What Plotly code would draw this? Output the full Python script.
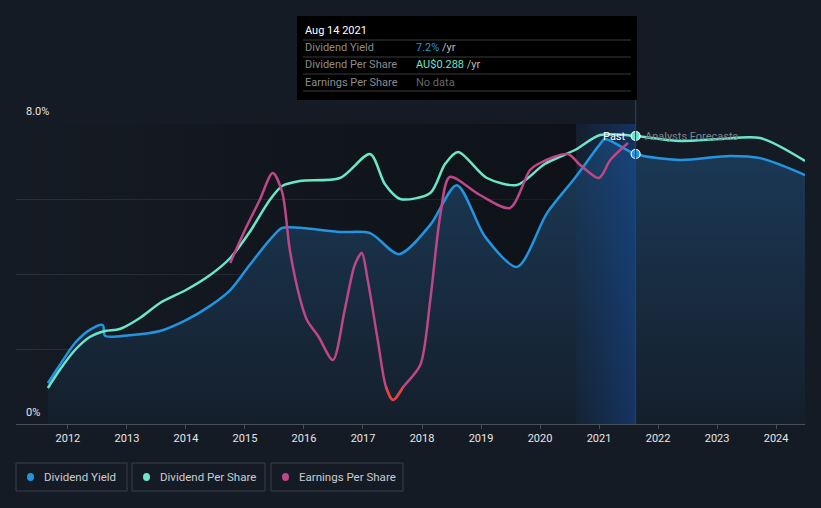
import plotly.graph_objects as go

# ---------------- data ----------------
dy_years = [2011.66, 2011.86, 2012.12, 2012.37, 2012.59, 2012.63, 2013.05, 2013.56, 2014.0,
            2014.41, 2014.75, 2015.08, 2015.42, 2015.63, 2015.93, 2016.61, 2017.12, 2017.61,
            2018.14, 2018.59, 2019.07, 2019.61, 2020.12, 2020.59, 2021.02, 2021.10, 2021.62,
            2022.37, 2023.22, 2023.73, 2024.49]
dy_values = [1.09, 1.57, 2.16, 2.51, 2.64, 2.35, 2.37, 2.48, 2.77,
             3.15, 3.57, 4.24, 4.91, 5.23, 5.23, 5.12, 5.09, 4.53,
             5.31, 6.37, 4.99, 4.19, 5.63, 6.56, 7.47, 7.60, 7.20,
             7.04, 7.15, 7.09, 6.64]

dps_years = [2011.66, 2011.86, 2012.12, 2012.37, 2012.63, 2012.88, 2013.22, 2013.56, 2014.0,
             2014.41, 2014.75, 2015.08, 2015.42, 2015.63, 2015.93, 2016.61, 2017.12, 2017.37,
             2017.63, 2018.14, 2018.39, 2018.61, 2019.10, 2019.61, 2020.08, 2020.59, 2021.02,
             2021.62, 2022.37, 2023.05, 2023.73, 2024.49]
dps_values = [0.036, 0.054, 0.074, 0.087, 0.093, 0.095, 0.106, 0.121, 0.134,
              0.149, 0.166, 0.192, 0.224, 0.238, 0.243, 0.246, 0.270, 0.240,
              0.225, 0.231, 0.260, 0.272, 0.246, 0.239, 0.260, 0.274, 0.289,
              0.288, 0.283, 0.285, 0.286, 0.263]

eps_years = [2014.75, 2015.0, 2015.25, 2015.47, 2015.63, 2015.76, 2015.93, 2016.05, 2016.24,
             2016.49, 2016.69, 2016.86, 2016.98, 2017.08, 2017.25, 2017.39, 2017.51, 2017.68,
             2017.97, 2018.14, 2018.31, 2018.47, 2018.98, 2019.49, 2019.83, 2020.0, 2020.47,
             2020.68, 2021.0, 2021.19, 2021.49]
eps_values = [12.4, 15.7, 18.7, 21.4, 19.5, 13.7, 8.9, 6.7, 5.1,
              2.7, 7.7, 12.2, 13.4, 10.7, 4.7, 0.0, -1.3, 0.0,
              2.2, 8.7, 17.2, 21.0, 19.2, 17.9, 21.7, 22.4, 23.3,
              22.2, 20.9, 22.7, 24.4]
eps_neg_years = [2017.39, 2017.51, 2017.68]
eps_neg_values = [0.0, -1.3, 0.0]

tick_years = list(range(2012, 2025))
tick_labels = [str(y) for y in tick_years]

x_range = [2011.12, 2024.49]
past_band = [2020.61, 2021.62]
now_year = 2021.62

BG = "#151b24"
BLUE = "#2394df"
TEAL = "#6ce5cb"
PINK = "#bd4787"
RED = "#e5423b"
FONT = "Roboto"

fig = go.Figure()

# darker "past" background (horizontal gradient)
fig.add_trace(go.Scatter(
    x=[x_range[0], past_band[0], past_band[0], x_range[0]], y=[0, 0, 8, 8],
    fill="toself", mode="none", hoverinfo="skip", showlegend=False,
    fillgradient=dict(type="horizontal",
                      colorscale=[[0, "rgba(8,10,14,0.0)"], [1, "rgba(8,10,14,0.55)"]])))

# dividend yield area fill
fig.add_trace(go.Scatter(
    x=dy_years, y=dy_values, fill="tozeroy", mode="none", hoverinfo="skip",
    showlegend=False, line=dict(shape="spline", smoothing=0.8),
    fillgradient=dict(type="vertical", start=0, stop=8,
                      colorscale=[[0, "#151f2b"], [1, "#1b3b5a"]])))

# last-year highlight band
fig.add_trace(go.Scatter(
    x=[past_band[0], past_band[1], past_band[1], past_band[0]], y=[0, 0, 8, 8],
    fill="toself", mode="none", hoverinfo="skip", showlegend=False,
    fillgradient=dict(type="horizontal",
                      colorscale=[[0, "rgba(20,70,140,0.10)"], [1, "rgba(20,80,170,0.45)"]])))

# lines
fig.add_trace(go.Scatter(
    x=eps_years, y=eps_values, yaxis="y3", mode="lines", hoverinfo="skip",
    showlegend=False, line=dict(color=PINK, width=2.5, shape="spline", smoothing=0.8)))
fig.add_trace(go.Scatter(
    x=eps_neg_years, y=eps_neg_values, yaxis="y3", mode="lines", hoverinfo="skip",
    showlegend=False, line=dict(color=RED, width=2.5, shape="spline", smoothing=1)))
fig.add_trace(go.Scatter(
    x=dps_years, y=dps_values, yaxis="y2", mode="lines", hoverinfo="skip",
    showlegend=False, line=dict(color=TEAL, width=2.5, shape="spline", smoothing=0.8)))
fig.add_trace(go.Scatter(
    x=dy_years, y=dy_values, mode="lines", hoverinfo="skip",
    showlegend=False, line=dict(color=BLUE, width=2.5, shape="spline", smoothing=0.8)))

# current-date markers
fig.add_trace(go.Scatter(
    x=[now_year], y=[0.288], yaxis="y2", mode="markers", hoverinfo="skip", showlegend=False,
    marker=dict(size=9, color=TEAL, line=dict(color="white", width=1.2))))
fig.add_trace(go.Scatter(
    x=[now_year], y=[7.2], mode="markers", hoverinfo="skip", showlegend=False,
    marker=dict(size=9, color=BLUE, line=dict(color="white", width=1.2))))

W, H = 821, 508
L, R, T, B = 16, 16, 124, 84
pw, ph = W - L - R, H - T - B


def px(x):
    return (x - L) / pw


def py(y):
    return (H - B - y) / ph


shapes = []
annotations = []

# vertical "now" line
shapes.append(dict(type="line", xref="x", yref="paper", x0=now_year, x1=now_year,
                   y0=0, y1=py(100), line=dict(color="#26456b", width=1), layer="above"))

# tooltip box
shapes.append(dict(type="rect", xref="paper", yref="paper", x0=px(297), x1=px(637),
                   y0=py(100), y1=py(16), fillcolor="#000000", line=dict(width=0), layer="above"))
for yy in [40, 57, 74, 91]:
    shapes.append(dict(type="line", xref="paper", yref="paper", x0=px(303), x1=px(631),
                       y0=py(yy), y1=py(yy), line=dict(color="#3a3a3a", width=1), layer="above"))

annotations.append(dict(xref="paper", yref="paper", x=px(303), y=py(31), text="Aug 14 2021",
                        showarrow=False, xanchor="left", yanchor="middle",
                        font=dict(family=FONT, size=11, color="#ffffff")))
rows = [
    ("Dividend Yield", "<span style='color:%s'>7.2%%</span> /yr" % BLUE, 48),
    ("Dividend Per Share", "<span style='color:%s'>AU$0.288</span> /yr" % TEAL, 65),
    ("Earnings Per Share", "<span style='color:#666666'>No data</span>", 82),
]
for lab, val, yy in rows:
    annotations.append(dict(xref="paper", yref="paper", x=px(303), y=py(yy), text=lab,
                            showarrow=False, xanchor="left", yanchor="middle",
                            font=dict(family=FONT, size=11, color="#8c8c8c")))
    annotations.append(dict(xref="paper", yref="paper", x=px(414), y=py(yy), text=val,
                            showarrow=False, xanchor="left", yanchor="middle",
                            font=dict(family=FONT, size=11, color="#bbbbbb")))

# Past / Analysts Forecasts labels
annotations.append(dict(xref="paper", yref="paper", x=px(628), y=py(136), text="Past",
                        showarrow=False, xanchor="right", yanchor="middle",
                        font=dict(family=FONT, size=11, color="#ffffff")))
annotations.append(dict(xref="paper", yref="paper", x=px(643), y=py(136), text="Analysts Forecasts",
                        showarrow=False, xanchor="left", yanchor="middle",
                        font=dict(family=FONT, size=11, color="#7d838b")))

# y labels
annotations.append(dict(xref="paper", yref="paper", x=px(24), y=py(112), text="8.0%",
                        showarrow=False, xanchor="left", yanchor="middle",
                        font=dict(family=FONT, size=11, color="#e6e6e6")))
annotations.append(dict(xref="paper", yref="paper", x=px(24), y=py(412), text="0%",
                        showarrow=False, xanchor="left", yanchor="middle",
                        font=dict(family=FONT, size=11, color="#e6e6e6")))

# legend
legend_items = [("Dividend Yield", BLUE, 16, 127), ("Dividend Per Share", TEAL, 132, 265),
                ("Earnings Per Share", PINK, 271, 403)]
for name, col, x0, x1 in legend_items:
    shapes.append(dict(type="rect", xref="paper", yref="paper", x0=px(x0), x1=px(x1),
                       y0=py(491), y1=py(463), line=dict(color="#3b414a", width=1),
                       fillcolor="rgba(0,0,0,0)"))
    shapes.append(dict(type="circle", xref="paper", yref="paper", x0=px(x0 + 11), x1=px(x0 + 18),
                       y0=py(481), y1=py(473), fillcolor=col, line=dict(width=0)))
    annotations.append(dict(xref="paper", yref="paper", x=px(x0 + 26), y=py(477), text=name,
                            showarrow=False, xanchor="left", yanchor="middle",
                            font=dict(family=FONT, size=11.5, color="#c8ccd2")))

fig.update_layout(
    width=W, height=H, margin=dict(l=L, r=R, t=T, b=B),
    paper_bgcolor=BG, plot_bgcolor=BG,
    showlegend=False, hovermode=False,
    xaxis=dict(range=x_range, tickvals=tick_years, ticktext=tick_labels, showgrid=False,
               zeroline=False, showline=True, linecolor="#4a5058", linewidth=1,
               ticks="outside", ticklen=4, tickcolor="#4a5058",
               tickfont=dict(family=FONT, size=11, color="#e6e6e6"), fixedrange=True),
    yaxis=dict(range=[0, 8], tickvals=[0, 2, 4, 6, 8], showticklabels=False,
               gridcolor="#2b323c", gridwidth=1, zeroline=False, fixedrange=True),
    yaxis2=dict(range=[0, 0.3], overlaying="y", visible=False, fixedrange=True),
    yaxis3=dict(range=[-3.7, 26.3], overlaying="y", visible=False, fixedrange=True),
    shapes=shapes, annotations=annotations,
)

fig.write_html("out.html", config={"displayModeBar": False},
               post_script="document.body.style.margin='0px';document.body.style.background='%s';" % BG)
